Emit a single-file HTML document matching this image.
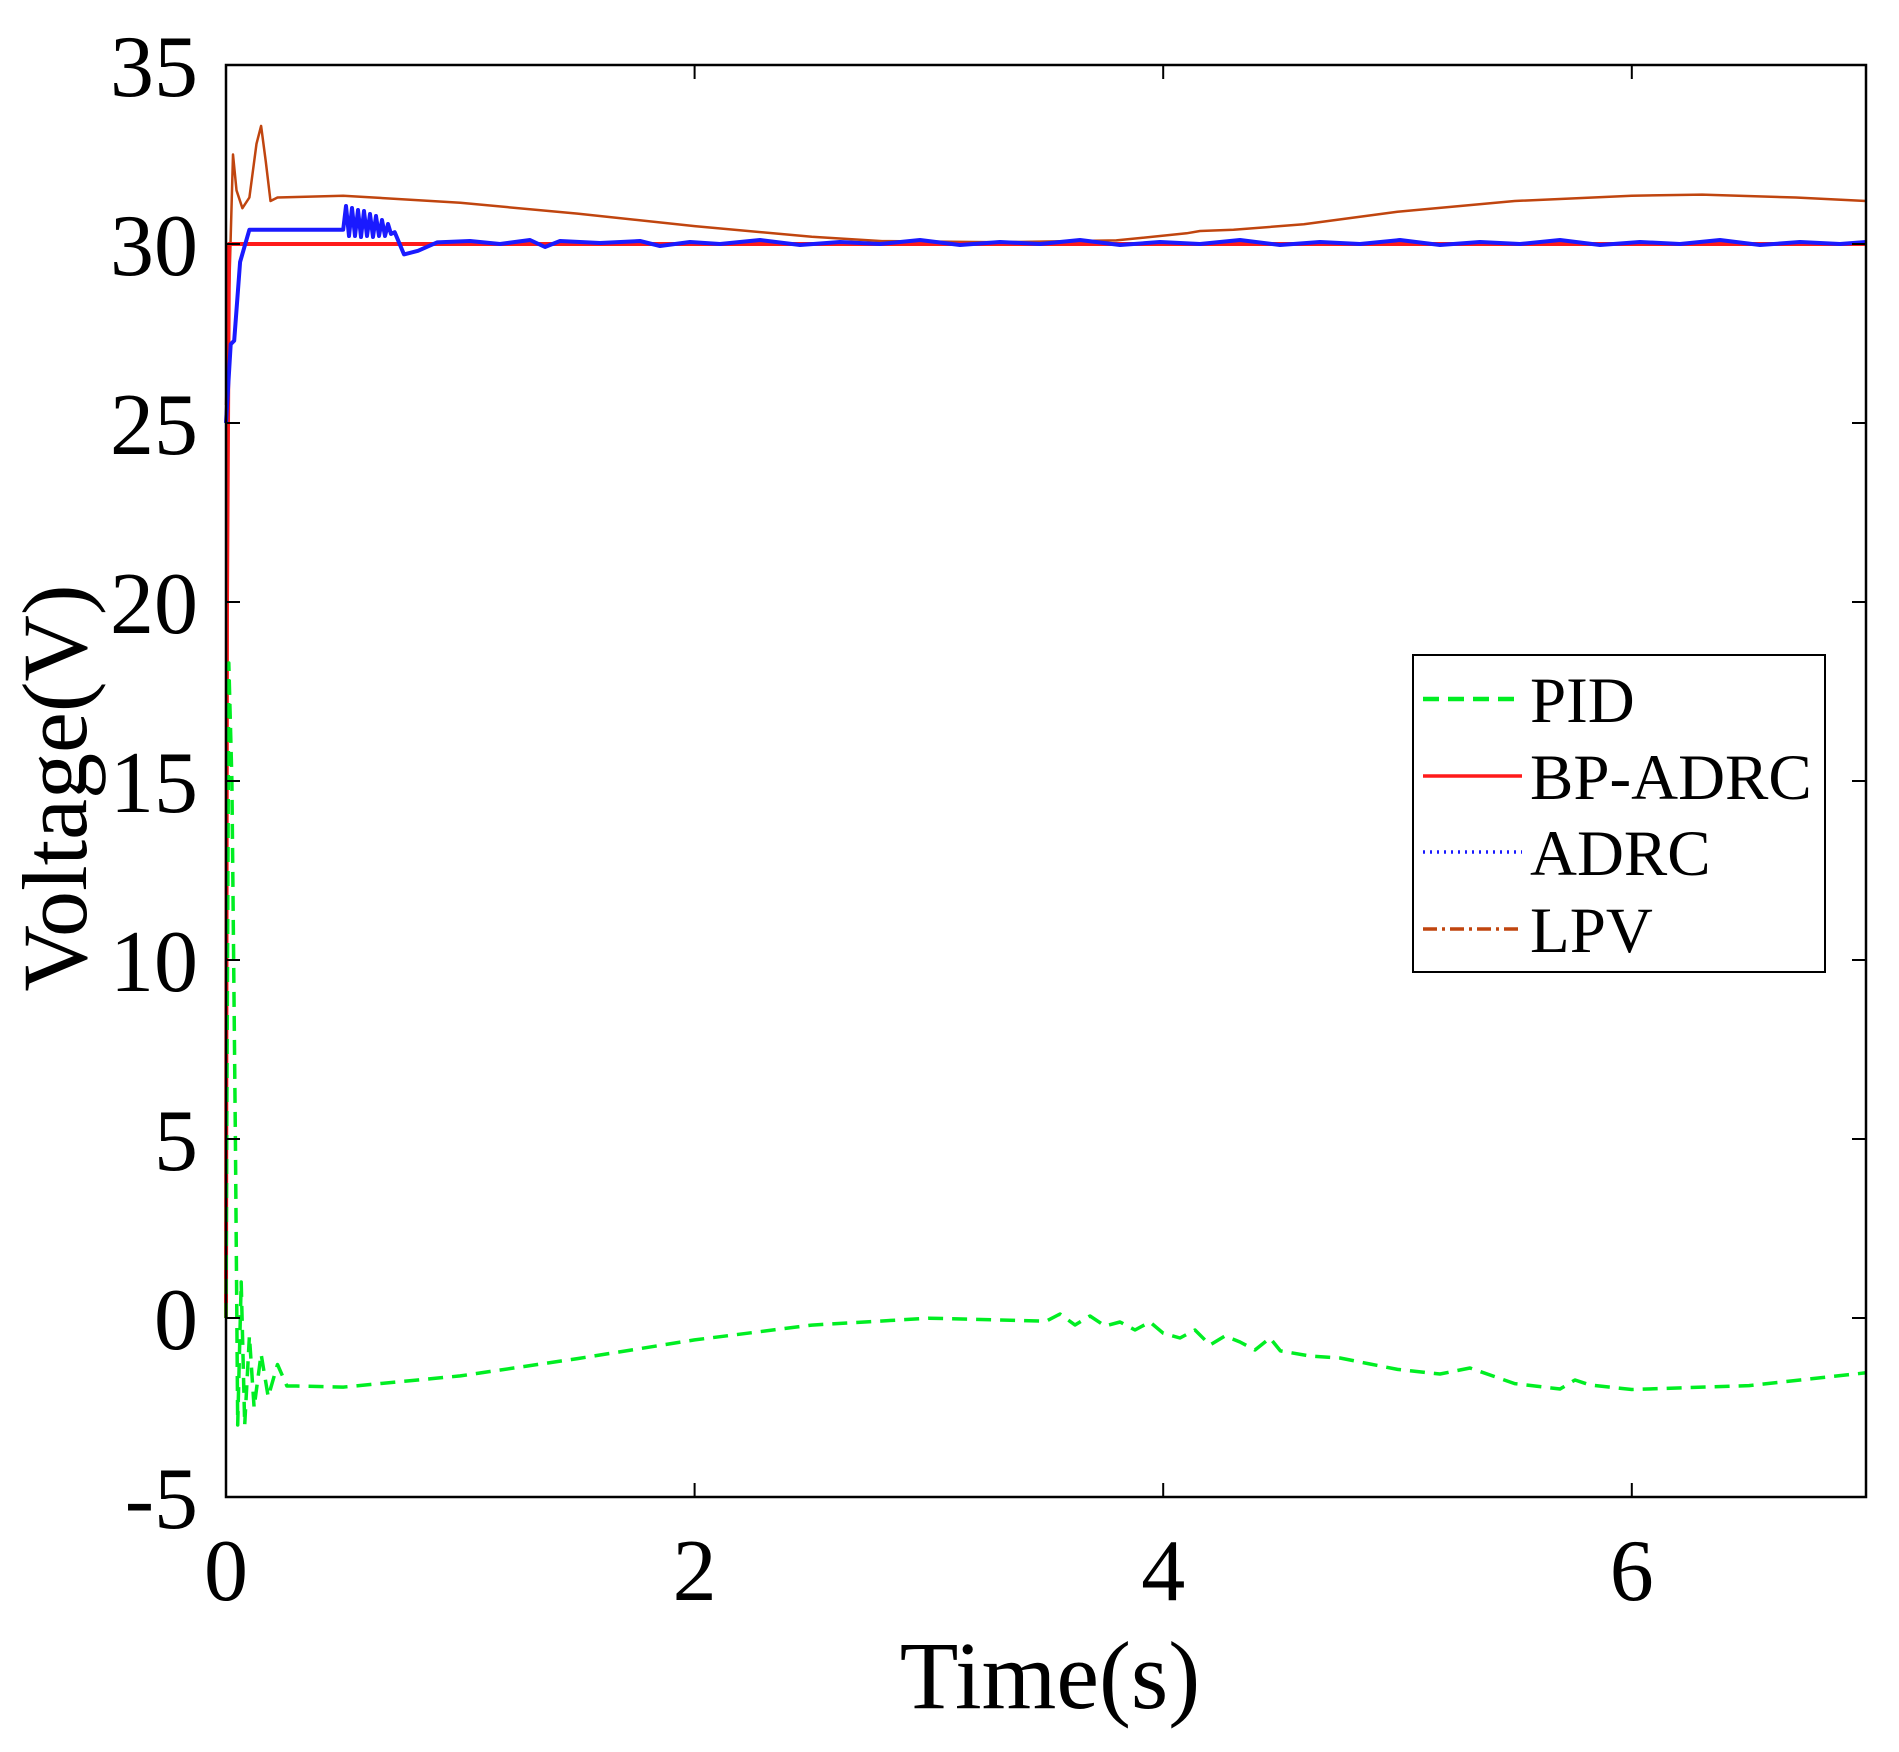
<!DOCTYPE html>
<html><head><meta charset="utf-8"><style>
html,body{margin:0;padding:0;background:#fff;}
svg{display:block;}
text{font-family:"Liberation Serif",serif;fill:#000;}
</style></head><body>
<svg width="1899" height="1752" viewBox="0 0 1899 1752" xmlns="http://www.w3.org/2000/svg">
<rect width="1899" height="1752" fill="#fff"/>
<g fill="none" stroke-linejoin="round">
<path d="M226,405 L229.5,280 L233,154.5 L236.5,190.3 L242.4,208.2 L249.4,197.5 L256.5,143.8 L261.1,125.9 L265.8,161.7 L270.5,201 L277.5,197.5 L343.2,195.7 L460.3,202.8 L577.5,213.6 L694.6,226.1 L811.8,236.8 L882,241.1 L999.2,242.2 L1116.3,240.4 L1186.6,233.3 L1200,231 L1233.5,229.7 L1303.8,224.3 L1397.5,211.8 L1514.7,201 L1631.8,195.7 L1702.1,194.6 L1795.8,197.5 L1866,201" stroke="#c0450f" stroke-width="2.5"/>
<path d="M226,1318 L227,602 L229,244 L1866,244" stroke="#ff1a1a" stroke-width="4"/>
<path d="M226,423 L230.7,344.2 L234.2,340.7 L240.1,261.9 L249.4,229.7 L343.2,229.7 L346,206 L349,236 L352,208 L355,236 L358,210 L361,237 L364,211 L367,236 L370,214 L373,237 L376,216 L379,236 L382,220 L385,236 L388,224 L391,234 L394.7,232.2 L404,254.4 L418,250.8 L437,242.4 L470,241 L500,244 L530,240 L545,247 L560,241 L600,243 L640,241 L660,246 L690,242 L720,244 L760,240 L800,245 L840,242 L880,244 L920,240 L960,245 L1000,242 L1040,244 L1080,240 L1120,245 L1160,242 L1200,244 L1240,240 L1280,245 L1320,242 L1360,244 L1400,240 L1440,245 L1480,242 L1520,244 L1560,240 L1600,245 L1640,242 L1680,244 L1720,240 L1760,245 L1800,242 L1840,244 L1866,242" stroke="#1a1aff" stroke-width="4"/>
<path d="M226,1318 L228.8,663 L231.9,781 L235.4,1139 L237.7,1425 L241.2,1282 L244.7,1425 L249.4,1336 L254.1,1407.5 L261.1,1354 L268.2,1396.8 L277.5,1364.5 L286.9,1386 L296.3,1386 L343.2,1387.1 L460.3,1375.9 L577.5,1358.6 L694.6,1339.9 L811.8,1325.1 L929,1318.2 L1046.1,1321.2 L1060,1314 L1075,1325 L1090,1316 L1105,1326 L1120,1322 L1135,1330 L1150,1322 L1163.2,1333.2 L1180,1338 L1195,1330 L1210,1345 L1225,1336 L1240,1342 L1255,1350 L1270,1338 L1280.4,1350.9 L1310,1356 L1340,1358 L1370,1364 L1397.5,1369.4 L1440,1374 L1470,1368 L1514.7,1383.6 L1560,1389 L1575,1380 L1590,1385 L1631.8,1389.5 L1749,1385.6 L1866,1372.8" stroke="#00ee22" stroke-width="3.5" stroke-dasharray="15,9"/>
</g>
<rect x="226" y="65" width="1640" height="1432" fill="none" stroke="#000" stroke-width="2.5"/>
<g stroke="#000" stroke-width="2">
<line x1="226" y1="1318" x2="240" y2="1318"/><line x1="1866" y1="1318" x2="1852" y2="1318"/>
<line x1="226" y1="1139" x2="240" y2="1139"/><line x1="1866" y1="1139" x2="1852" y2="1139"/>
<line x1="226" y1="960" x2="240" y2="960"/><line x1="1866" y1="960" x2="1852" y2="960"/>
<line x1="226" y1="781" x2="240" y2="781"/><line x1="1866" y1="781" x2="1852" y2="781"/>
<line x1="226" y1="602" x2="240" y2="602"/><line x1="1866" y1="602" x2="1852" y2="602"/>
<line x1="226" y1="423" x2="240" y2="423"/><line x1="1866" y1="423" x2="1852" y2="423"/>
<line x1="226" y1="244" x2="240" y2="244"/><line x1="1866" y1="244" x2="1852" y2="244"/>
<line x1="694.6" y1="1497" x2="694.6" y2="1483"/><line x1="694.6" y1="65" x2="694.6" y2="79"/>
<line x1="1163.2" y1="1497" x2="1163.2" y2="1483"/><line x1="1163.2" y1="65" x2="1163.2" y2="79"/>
<line x1="1631.8" y1="1497" x2="1631.8" y2="1483"/><line x1="1631.8" y1="65" x2="1631.8" y2="79"/>
</g>
<g font-size="88" text-anchor="end">
<text x="198" y="1528">-5</text>
<text x="198" y="1349">0</text>
<text x="198" y="1170">5</text>
<text x="198" y="991">10</text>
<text x="198" y="812">15</text>
<text x="198" y="633">20</text>
<text x="198" y="454">25</text>
<text x="198" y="275">30</text>
<text x="198" y="96">35</text>
</g>
<g font-size="88" text-anchor="middle">
<text x="226" y="1600">0</text>
<text x="694.6" y="1600">2</text>
<text x="1163.2" y="1600">4</text>
<text x="1631.8" y="1600">6</text>
</g>
<text x="1050" y="1708" font-size="96" text-anchor="middle">Time(s)</text>
<text transform="translate(86,788) rotate(-90)" font-size="92" text-anchor="middle">Voltage(V)</text>
<rect x="1413" y="655" width="412" height="317" fill="#fff" stroke="#000" stroke-width="2"/>
<line x1="1423" y1="699" x2="1522" y2="699" stroke="#00ee22" stroke-width="4.5" stroke-dasharray="16,9"/>
<line x1="1423" y1="776" x2="1522" y2="776" stroke="#ff1a1a" stroke-width="3.5"/>
<line x1="1423" y1="852" x2="1522" y2="852" stroke="#1a1aff" stroke-width="3.5" stroke-dasharray="2,5"/>
<line x1="1423" y1="929" x2="1522" y2="929" stroke="#c0450f" stroke-width="3.5" stroke-dasharray="14,5,3,5"/>
<g font-size="65">
<text x="1530" y="722">PID</text>
<text x="1530" y="799">BP-ADRC</text>
<text x="1530" y="875">ADRC</text>
<text x="1530" y="952">LPV</text>
</g>
</svg>
</body></html>
